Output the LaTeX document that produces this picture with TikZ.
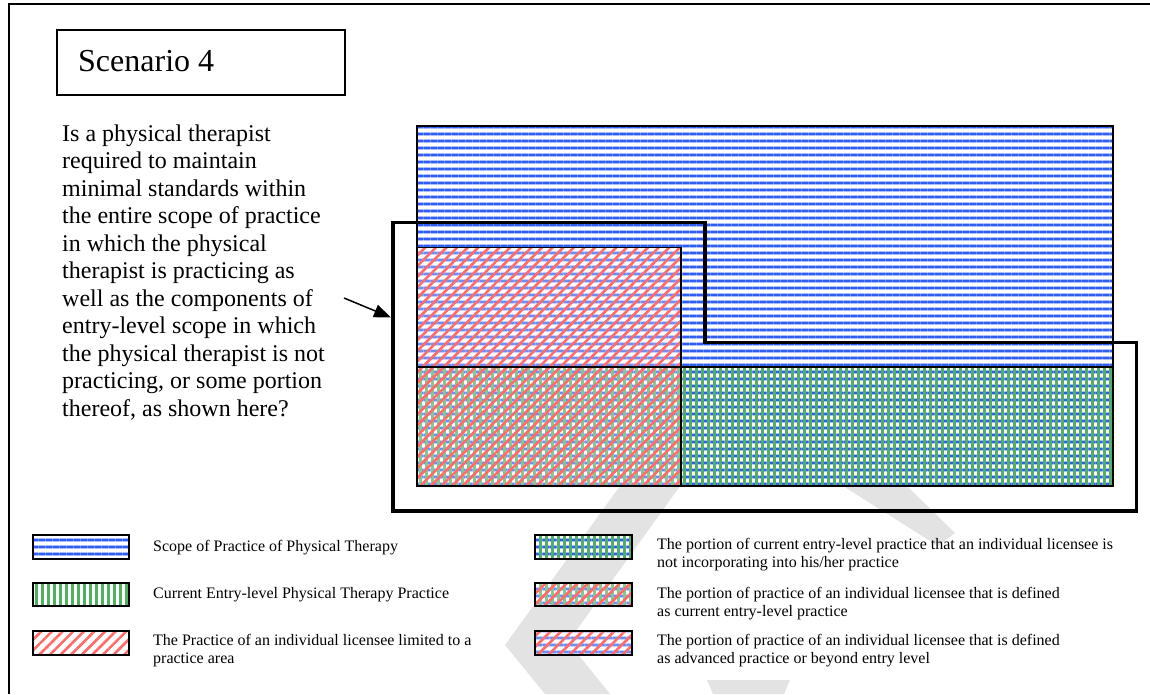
\documentclass[tikz,border=0pt]{standalone}
\usepackage{fontspec}
\setmainfont{Liberation Serif}
\usetikzlibrary{patterns.meta,arrows.meta}
\definecolor{bluedeep}{HTML}{2F5EF2}
\definecolor{bluelight}{HTML}{A9BBFF}
\definecolor{greenstripe}{HTML}{4FB060}
\definecolor{redstripe}{HTML}{FF6A6A}
\definecolor{wmgray}{HTML}{E3E3E3}
\definecolor{shadowgray}{HTML}{9A9A9A}
\begin{document}
\begin{tikzpicture}[x=1pt,y=-1pt,
  bluelo/.style={pattern={Lines[angle=0,distance=7pt,line width=3.6pt]},pattern color=bluelight},
  bluehi/.style={pattern={Lines[angle=0,distance=7pt,line width=2.2pt]},pattern color=bluedeep},
  greenpat/.style={pattern={Lines[angle=90,distance=6pt,line width=3pt]},pattern color=greenstripe,fill opacity=0.85},
  redpat/.style={pattern={Lines[angle=45,distance=7.5pt,line width=2.6pt]},pattern color=redstripe,fill opacity=0.8},
  wash/.style={fill=white,fill opacity=0.3},
  thinedge/.style={draw=black,line width=1.6pt},
  swedge/.style={draw=black,line width=2pt},
  bigline/.style={draw=black,line width=3.6pt,line join=miter},
  shadowline/.style={draw=shadowgray,line width=3.6pt,line join=miter},
  wmark/.style={fill=wmgray,draw=none},
  titlefont/.style={font=\fontsize{32}{36.8}\selectfont},
  bodytext/.style={font=\fontsize{24}{27.6}\selectfont,anchor=base west,inner sep=0pt},
  legtext/.style={font=\fontsize{16}{18.4}\selectfont,anchor=base west,inner sep=0pt},
  pointer/.style={-{Triangle[length=17pt,width=13pt]},line width=1.5pt}
]
\useasboundingbox (0,0) rectangle (1150,694);
\fill[white] (0,0) rectangle (1150,694);

% watermark pieces
\path[wmark] (620,486) -- (680,486) -- (568,642) -- (610,694) -- (545,694) -- (505,645) -- cycle;
\path[wmark] (843,486) -- (907,486) -- (955,533) -- (938,546) -- cycle;
\path[wmark] (707,680) -- (790,680) -- (784,694) -- (713,694) -- cycle;

% outer frame (left and top)
\coordinate (fr1) at (9,694);
\coordinate (fr2) at (9,4);
\coordinate (fr3) at (1150,4);
\draw[line width=1.8pt] (fr1) -- (fr2) -- (fr3);

% title
\coordinate (tb1) at (57,30);
\coordinate (tb2) at (345,95);
\draw[line width=1.6pt] (tb1) rectangle (tb2);
\node[titlefont,anchor=base west,inner sep=0pt] (title) at (78,71) {Scenario 4};

% question text
\foreach \txt [count=\i] in {{Is a physical therapist},{required to maintain},{minimal standards within},{the entire scope of practice},{in which the physical},{therapist is practicing as},{well as the components of},{entry-level scope in which},{the physical therapist is not},{practicing, or some portion},{thereof, as shown here?}}
  \node[bodytext] (q\i) at (62,{141+27.5*(\i-1)}) {\txt};

% main diagram coordinates
\coordinate (sA) at (417,126);    % scope top-left
\coordinate (sB) at (1112.5,486); % scope bottom-right
\coordinate (eA) at (417,367);    % entry-level top-left
\coordinate (rA) at (417,247.5);  % licensee top-left
\coordinate (rB) at (681,486);    % licensee bottom-right

\fill[white] (sA) rectangle (sB);
\path[bluelo] (sA) rectangle (sB);
\path[bluehi] (sA) rectangle (sB);
\path[greenpat] (eA) rectangle (sB);
\path[wash] (rA) rectangle (rB);
\path[redpat] (rA) rectangle (rB);
\draw[thinedge] (eA) rectangle (sB);
\draw[thinedge] (rA) rectangle (rB);
\draw[line width=2pt] (sA) rectangle (sB);

% thick outline of the individual's practice
\coordinate (p1) at (393,222.5);
\coordinate (p2) at (705,222.5);
\coordinate (p3) at (705,342.5);
\coordinate (p4) at (1136.5,342.5);
\coordinate (p5) at (1136.5,511);
\coordinate (p6) at (393,511);
\draw[shadowline,shift={(1.6,1.6)}] (p1) -- (p2) -- (p3) -- (p4) -- (p5) -- (p6) -- cycle;
\draw[bigline] (p1) -- (p2) -- (p3) -- (p4) -- (p5) -- (p6) -- cycle;

% arrow
\coordinate (arrtail) at (344,298);
\coordinate (arrtip) at (391,317.5);
\draw[pointer] (arrtail) -- (arrtip);

% legend swatches, left column
\coordinate (l1a) at (33,535);   \coordinate (l1b) at (129,558.5);
\coordinate (l2a) at (33,583);   \coordinate (l2b) at (129,606);
\coordinate (l3a) at (33,631);   \coordinate (l3b) at (129,655);
\fill[white] (l1a) rectangle (l1b);
\path[bluelo] (l1a) rectangle (l1b);
\path[bluehi] (l1a) rectangle (l1b);
\draw[swedge] (l1a) rectangle (l1b);
\fill[white] (l2a) rectangle (l2b);
\path[greenpat] (l2a) rectangle (l2b);
\draw[swedge] (l2a) rectangle (l2b);
\fill[white] (l3a) rectangle (l3b);
\path[redpat] (l3a) rectangle (l3b);
\draw[swedge] (l3a) rectangle (l3b);

% legend swatches, right column
\coordinate (r1a) at (535,535);  \coordinate (r1b) at (632,558.5);
\coordinate (r2a) at (535,583);  \coordinate (r2b) at (632,606);
\coordinate (r3a) at (535,631);  \coordinate (r3b) at (632,655);
\fill[white] (r1a) rectangle (r1b);
\path[bluelo] (r1a) rectangle (r1b);
\path[bluehi] (r1a) rectangle (r1b);
\path[greenpat] (r1a) rectangle (r1b);
\draw[swedge] (r1a) rectangle (r1b);
\fill[white] (r2a) rectangle (r2b);
\path[bluelo] (r2a) rectangle (r2b);
\path[bluehi] (r2a) rectangle (r2b);
\path[greenpat] (r2a) rectangle (r2b);
\path[wash] (r2a) rectangle (r2b);
\path[redpat] (r2a) rectangle (r2b);
\draw[swedge] (r2a) rectangle (r2b);
\fill[white] (r3a) rectangle (r3b);
\path[bluelo] (r3a) rectangle (r3b);
\path[bluehi] (r3a) rectangle (r3b);
\path[wash] (r3a) rectangle (r3b);
\path[redpat] (r3a) rectangle (r3b);
\draw[swedge] (r3a) rectangle (r3b);

% legend texts
\node[legtext] (lt1) at (153,551) {Scope of Practice of Physical Therapy};
\node[legtext] (lt2) at (153,598) {Current Entry-level Physical Therapy Practice};
\node[legtext] (lt3a) at (153,645) {The Practice of an individual licensee limited to a};
\node[legtext] (lt3b) at (153,663) {practice area};
\node[legtext] (rt1a) at (657,549) {The portion of current entry-level practice that an individual licensee is};
\node[legtext] (rt1b) at (657,567) {not incorporating into his/her practice};
\node[legtext] (rt2a) at (657,598) {The portion of practice of an individual licensee that is defined};
\node[legtext] (rt2b) at (657,616) {as current entry-level practice};
\node[legtext] (rt3a) at (657,645) {The portion of practice of an individual licensee that is defined};
\node[legtext] (rt3b) at (657,663) {as advanced practice or beyond entry level};
\end{tikzpicture}
\end{document}
